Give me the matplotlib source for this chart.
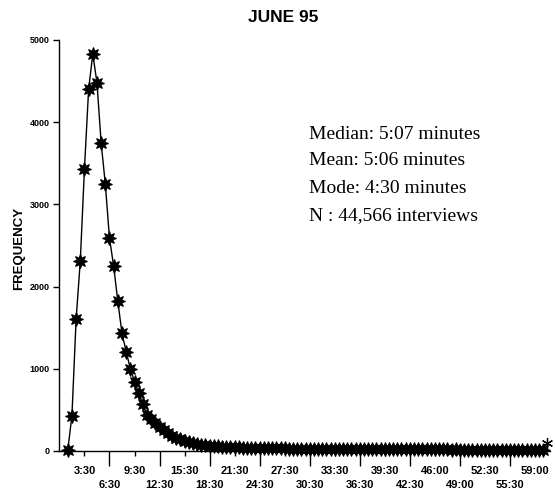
import matplotlib
matplotlib.use("Agg")
import matplotlib.pyplot as plt

# Frequency per 30-second interval (first point = 1:30), last point is the open-ended tail
frequency = [
    10, 430, 1600, 2310, 3430, 4400, 4830, 4480, 3750, 3250,
    2590, 2250, 1820, 1430, 1210, 1000, 845, 710, 570, 440,
    385, 335, 290, 250, 215, 185, 160, 140, 122, 108,
    96, 86, 78, 71, 65, 60, 56, 53, 50, 48,
    46, 44, 42, 40, 39, 38, 37, 36, 35, 34,
    33, 32, 31, 30, 30, 29, 28, 28, 27, 27,
    26, 26, 25, 25, 24, 24, 24, 23, 23, 23,
    22, 22, 22, 22, 22, 22, 21, 21, 21, 21,
    20, 20, 21, 20, 20, 20, 19, 20, 19, 19,
    19, 19, 18, 19, 18, 18, 18, 18, 17, 18,
    17, 18, 17, 17, 17, 17, 16, 17, 17, 16,
    16, 17, 16, 16, 17,
]
last_value = 100

tick_labels = ["3:30", "6:30", "9:30", "12:30", "15:30", "18:30", "21:30",
               "24:30", "27:30", "30:30", "33:30", "36:30", "39:30", "42:30",
               "46:00", "49:00", "52:30", "55:30", "59:00"]
first_tick_index = 4
tick_step = 6

y_ticks = [0, 1000, 2000, 3000, 4000, 5000]

stats_text = ["Median: 5:07 minutes", "Mean: 5:06 minutes",
              "Mode: 4:30 minutes", "N : 44,566 interviews"]

W, H = 555, 492
fig = plt.figure(figsize=(W / 100, H / 100), dpi=100)
ax = fig.add_axes([59 / W, 1 - 451 / H, (550 - 59) / W, (451 - 40) / H])

x = list(range(len(frequency)))
ax.plot(x, frequency, color="black", lw=1.0, marker=(8, 1, 0), ms=10,
        markerfacecolor="black", markeredgecolor="black", mew=0.8,
        clip_on=False, zorder=3)
xl = len(frequency)
ax.plot([x[-1], xl], [frequency[-1], last_value], color="black", lw=0.9, clip_on=False)
ax.plot([xl], [last_value], color="black", marker=(6, 2, 0), ms=8, mew=0.9,
        linestyle="none", clip_on=False, zorder=4)

ax.set_xlim(-2.1, 115.6)
ax.set_ylim(0, 5000)

for s in ("top", "right"):
    ax.spines[s].set_visible(False)
for s in ("left", "bottom"):
    ax.spines[s].set_linewidth(1.0)

tick_pos = [first_tick_index + tick_step * k for k in range(len(tick_labels))]
major_pos = tick_pos[0::2]
major_lab = tick_labels[0::2]
minor_pos = tick_pos[1::2]
minor_lab = tick_labels[1::2]
ax.set_xticks(major_pos)
ax.set_xticklabels(major_lab)
ax.set_xticks(minor_pos, minor=True)
ax.set_xticklabels(minor_lab, minor=True)
ax.tick_params(axis="x", which="major", direction="out", length=3.6, width=1,
               pad=7.5, labelsize=8)
ax.tick_params(axis="x", which="minor", direction="out", length=10.8, width=1,
               pad=10, labelsize=8)
for lab in ax.get_xticklabels(which="both"):
    lab.set_fontweight("bold")
    lab.set_family("Liberation Sans")

ax.set_yticks(y_ticks)
ax.set_yticklabels([str(v) for v in y_ticks])
ax.tick_params(axis="y", direction="out", length=4.5, width=1, pad=2, labelsize=6.5)
for lab in ax.get_yticklabels():
    lab.set_fontweight("bold")
    lab.set_family("Liberation Sans")

fig.text(283 / W, 1 - 18 / H, "JUNE 95", ha="center", va="center",
         fontsize=12.5, fontweight="bold", family="Liberation Sans")
fig.text(19 / W, 1 - 248 / H, "FREQUENCY", ha="center", va="center",
         rotation=90, fontsize=9.5, fontweight="bold", family="Liberation Sans")

baselines = [139, 165, 193, 220]
for txt, yb in zip(stats_text, baselines):
    fig.text(309 / W, 1 - yb / H, txt, ha="left", va="baseline",
             fontsize=14, family="Liberation Serif")

fig.savefig("out.png", dpi=100)
